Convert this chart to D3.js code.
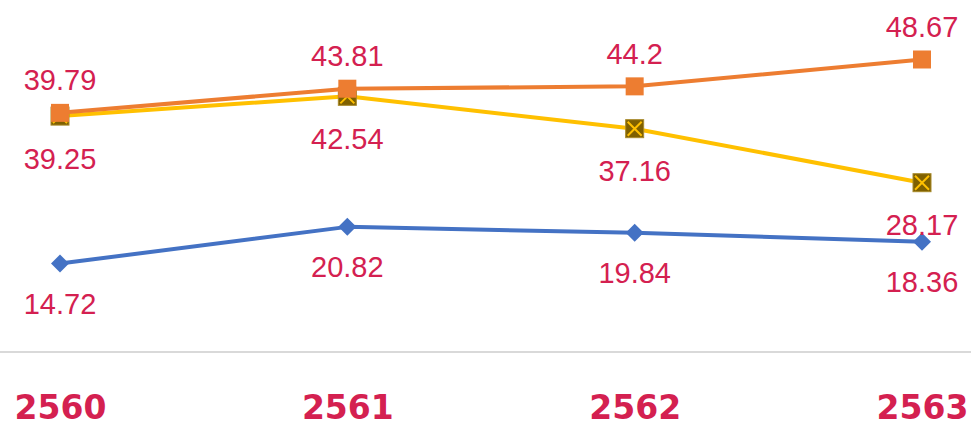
<!DOCTYPE html>
<html>
<head>
<meta charset="utf-8">
<script src="https://cdn.jsdelivr.net/npm/d3@7"></script>
<style>
  body { margin: 0; background: #fff; }
  svg { display: block; }
</style>
</head>
<body>
<script>
// categories & series
let years = ["2560", "2561", "2562", "2563"];
let blueVals = [14.72, 20.82, 19.84, 18.36];
let orangeVals = [39.79, 43.81, 44.2, 48.67];
let yellowVals = [39.25, 42.54, 37.16, 28.17];

let width = 971, height = 426;
let labelColor = "#d42050";

let svg = d3.select("body").append("svg")
  .attr("width", width)
  .attr("height", height);

// scales
let xScale = d3.scalePoint().domain(years).range([60, 922]);
let yScale = d3.scaleLinear().domain([0, 50]).range([352, 51.5]);

// baseline gridline
svg.append("line")
  .attr("x1", 0).attr("x2", width)
  .attr("y1", yScale(0)).attr("y2", yScale(0))
  .style("stroke", "#d9d9d9")
  .style("stroke-width", 2);

// x axis labels
let xAxis = d3.axisBottom(xScale).tickSize(0).tickPadding(0);
let xAxisEl = svg.append("g")
  .attr("transform", "translate(0,396)")
  .call(xAxis);
xAxisEl.select(".domain").remove();
xAxisEl.selectAll("text")
  .attr("dy", "0.71em")
  .style("font-family", "'DejaVu Sans', sans-serif")
  .style("font-weight", "bold")
  .style("font-size", "33px")
  .style("fill", labelColor);

let line = d3.line()
  .x(function(d, i) { return xScale(years[i]); })
  .y(function(d) { return yScale(d); });

function drawSeries(vals, color, marker, labelOffset) {
  let g = svg.append("g");
  g.append("path").datum(vals)
    .attr("d", line)
    .style("fill", "none")
    .style("stroke", color)
    .style("stroke-width", 4)
    .style("stroke-linejoin", "round");

  let pts = g.selectAll(".pt").data(vals).enter().append("g")
    .attr("transform", function(d, i) { return "translate(" + xScale(years[i]) + "," + yScale(d) + ")"; });

  if (marker === "diamond") {
    pts.append("path")
      .attr("d", "M0,-9L9,0L0,9L-9,0Z")
      .style("fill", color);
  } else if (marker === "square") {
    pts.append("rect")
      .attr("x", -9).attr("y", -9).attr("width", 18).attr("height", 18)
      .style("fill", color);
  } else {
    pts.append("rect")
      .attr("x", -9).attr("y", -9).attr("width", 18).attr("height", 18)
      .style("fill", "#7f6000")
      .style("stroke", "#a88a2a")
      .style("stroke-width", 1);
    pts.append("path")
      .attr("d", "M-7,-7L7,7M7,-7L-7,7")
      .style("stroke", color)
      .style("stroke-width", 2);
  }

  g.selectAll(".lbl").data(vals).enter().append("text")
    .attr("x", function(d, i) { return xScale(years[i]); })
    .attr("y", function(d) { return yScale(d) + labelOffset; })
    .attr("text-anchor", "middle")
    .attr("dy", "0.36em")
    .style("font-family", "'Liberation Sans', Arial, sans-serif")
    .style("font-size", "29px")
    .style("fill", labelColor)
    .text(function(d) { return d; });
}

drawSeries(blueVals, "#4472c4", "diamond", 40);
drawSeries(yellowVals, "#ffc000", "xbox", 42);
drawSeries(orangeVals, "#ed7d31", "square", -33);
</script>
</body>
</html>
